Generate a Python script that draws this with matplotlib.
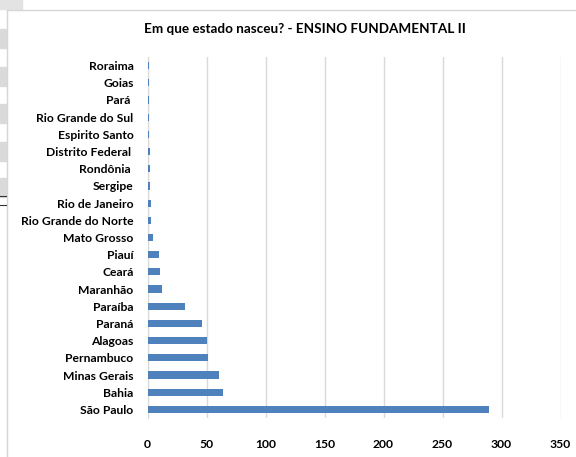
import matplotlib
matplotlib.use("Agg")
import matplotlib.pyplot as plt
from matplotlib.lines import Line2D
from matplotlib.patches import Rectangle

estados = ["São Paulo", "Bahia", "Minas Gerais", "Pernambuco", "Alagoas", "Paraná",
           "Paraíba", "Maranhão", "Ceará", "Piauí", "Mato Grosso", "Rio Grande do Norte",
           "Rio de Janeiro", "Sergipe", "Rondônia ", "Distrito Federal ", "Espirito Santo",
           "Rio Grande do Sul", "Pará ", "Goias", "Roraima"]
alunos = [289, 64, 61, 51, 50, 46, 32, 12, 11, 10, 5, 3, 3, 2, 2, 2, 1, 1, 1, 1, 1]
xticks = [0, 50, 100, 150, 200, 250, 300, 350]

plt.rcParams['font.family'] = ['Lato', 'DejaVu Sans']

W, H = 576, 457
fig = plt.figure(figsize=(W / 100, H / 100), dpi=100)
ax = fig.add_axes([147.5 / W, 1 - 418 / H, 413 / W, 361 / H])

ax.barh(range(len(estados)), alunos, height=0.42, color="#4F81BD", zorder=3)
ax.set_yticks(range(len(estados)))
ax.set_yticklabels(estados, fontsize=8.7, fontweight="bold")
ax.set_xticks(xticks)
ax.set_xticklabels([str(t) for t in xticks], fontsize=8.7, fontweight="bold")
ax.set_xlim(0, 350)
ax.set_ylim(-0.5, len(estados) - 0.5)
ax.tick_params(length=0)
ax.tick_params(axis="y", pad=10)
ax.tick_params(axis="x", pad=15)
ax.grid(axis="x", color="#D9D9D9", linewidth=1, zorder=0)
for s in ["top", "right", "bottom"]:
    ax.spines[s].set_visible(False)
ax.spines["left"].set_color("#D9D9D9")

fig.text(0.53, 1 - 29 / H, "Em que estado nasceu? - ENSINO FUNDAMENTAL II",
         ha="center", va="center", fontsize=9.7, fontweight="bold")

# planilha ao fundo
def px_rect(x, y, w, h, cor):
    fig.patches.append(Rectangle((x / W, 1 - (y + h) / H), w / W, h / H,
                                 transform=fig.transFigure, color=cor, zorder=0))

px_rect(0, 0, 22, 9, "#E3E3E3")
for y0 in [29, 67, 104, 142, 178]:
    px_rect(0, y0, 6, 19, "#DADADA")
fig.lines.append(Line2D([6.5 / W, 1.0], [1 - 10 / H, 1 - 10 / H], transform=fig.transFigure,
                        color="#D6D6D6", linewidth=1))
fig.lines.append(Line2D([6.5 / W, 6.5 / W], [0.0, 1 - 10 / H], transform=fig.transFigure,
                        color="#D6D6D6", linewidth=1))
for yl in [196, 205]:
    fig.lines.append(Line2D([0.0, 6 / W], [1 - yl / H, 1 - yl / H], transform=fig.transFigure,
                            color="#333333", linewidth=0.8))

fig.savefig("out.png", dpi=100)
